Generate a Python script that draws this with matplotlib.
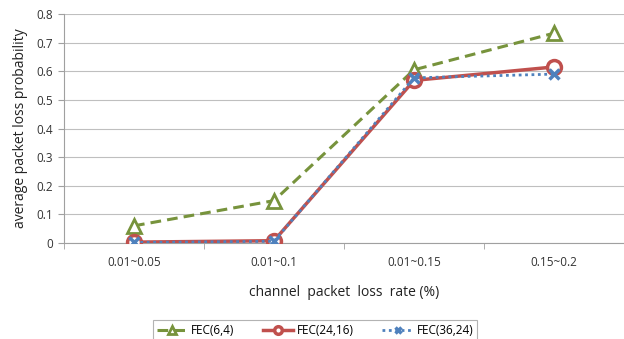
import matplotlib
matplotlib.use("Agg")
import matplotlib.pyplot as plt

# data
categories = ["0.01~0.05", "0.01~0.1", "0.01~0.15", "0.15~0.2"]
fec_6_4 = [0.060, 0.148, 0.605, 0.733]
fec_24_16 = [0.003, 0.008, 0.568, 0.615]
fec_36_24 = [0.002, 0.006, 0.577, 0.590]
y_ticks = [0, 0.1, 0.2, 0.3, 0.4, 0.5, 0.6, 0.7, 0.8]

plt.rcParams["font.family"] = ["Open Sans", "DejaVu Sans"]

fig = plt.figure(figsize=(6.24, 3.39), dpi=100)
ax = fig.add_axes([64 / 624, 1 - 243 / 339, 1 - 64 / 624, (243 - 14) / 339])

x = list(range(len(categories)))

ax.plot(x, fec_6_4, color="#77933C", lw=2.2, ls=(0, (3.5, 2)), marker="^",
        ms=10, mfc="white", mec="#77933C", mew=2, label="FEC(6,4)", zorder=3)
ax.plot(x, fec_24_16, color="#C0504D", lw=2.5, marker="o",
        ms=10, mfc="white", mec="#C0504D", mew=2.5, label="FEC(24,16)", zorder=4)
ax.plot(x, fec_36_24, color="#4F81BD", lw=2, ls=(0, (1, 1.3)), marker="x",
        ms=7, mew=2.5, label="FEC(36,24)", zorder=5)

ax.set_xlim(-0.5, len(categories) - 0.5)
ax.set_ylim(0, 0.8)
ax.set_yticks(y_ticks)
ax.set_yticklabels(["0"] + [f"{v:.1f}" for v in y_ticks[1:]], fontsize=8.5, color="#333333")
ax.set_xticks(x)
ax.set_xticklabels(categories, fontsize=8.5, color="#333333")
ax.tick_params(axis="x", length=0, pad=9)
ax.tick_params(axis="y", length=4, color="#A0A0A0", pad=4)
ax.set_xticks([-0.5, 0.5, 1.5, 2.5], minor=True)
ax.tick_params(axis="x", which="minor", length=4, color="#A0A0A0")

ax.grid(axis="y", color="#BFBFBF", lw=0.8)
ax.set_axisbelow(True)
for s in ["top", "right"]:
    ax.spines[s].set_visible(False)
for s in ["left", "bottom"]:
    ax.spines[s].set_color("#A0A0A0")

ax.set_xlabel("channel  packet  loss  rate (%)", fontsize=10, color="#222222", labelpad=12)
ax.set_ylabel("average packet loss probability", fontsize=10, color="#222222", labelpad=6)

leg = fig.legend(loc="upper center", bbox_to_anchor=(315 / 624, 1 - 316 / 339),
                 ncol=3, fontsize=8.5, frameon=True, fancybox=False,
                 handlelength=2.6, columnspacing=2.4, borderpad=0.35,
                 markerscale=0.55, handletextpad=0.3, borderaxespad=0.3)
leg.get_frame().set_edgecolor("#A0A0A0")
leg.get_frame().set_linewidth(0.8)

fig.savefig("out.png", dpi=100)
